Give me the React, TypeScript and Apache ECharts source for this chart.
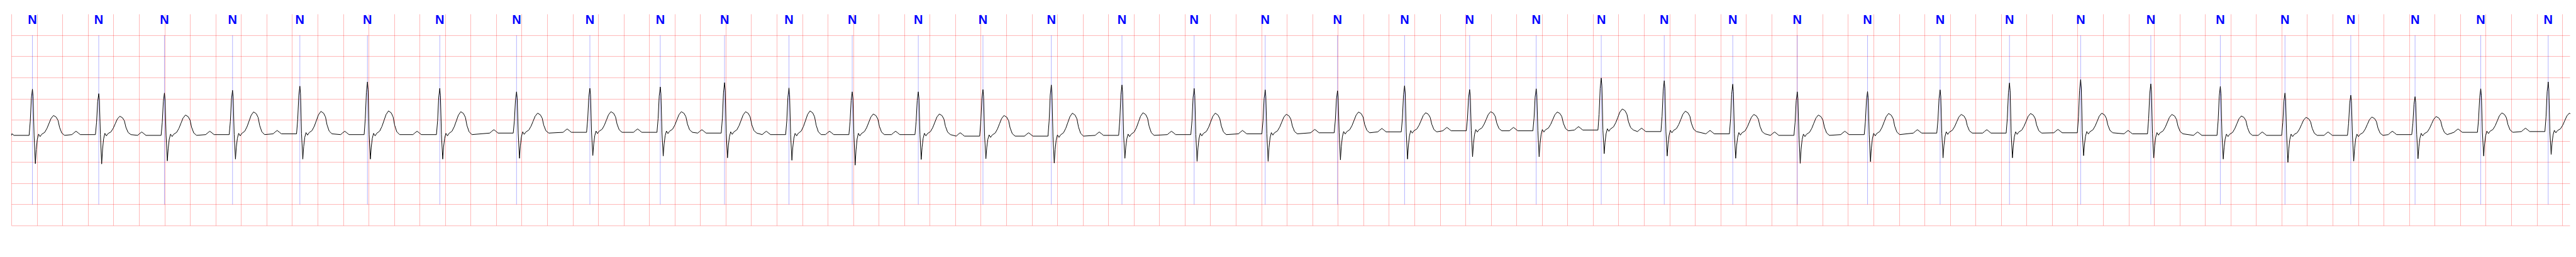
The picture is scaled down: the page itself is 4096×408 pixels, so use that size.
import React, { useEffect, useRef } from "react";
import * as echarts from "echarts";

// R-peak times (s) of each annotated beat
const BEAT_TIMES = [0.163, 0.683, 1.198, 1.732, 2.26, 2.79, 3.357, 3.959, 4.534, 5.086, 5.59, 6.095, 6.591, 7.109, 7.616, 8.152, 8.706, 9.272, 9.829, 10.396, 10.922, 11.432, 11.954, 12.464, 12.958, 13.495, 14.001, 14.552, 15.121, 15.665, 16.223, 16.773, 17.318, 17.825, 18.341, 18.845, 19.36, 19.889];
const BEAT_LABELS = ["N", "N", "N", "N", "N", "N", "N", "N", "N", "N", "N", "N", "N", "N", "N", "N", "N", "N", "N", "N", "N", "N", "N", "N", "N", "N", "N", "N", "N", "N", "N", "N", "N", "N", "N", "N", "N", "N"];
// amplitudes (mV) read per beat
const R_PEAK = [0.727, 0.622, 0.636, 0.701, 0.799, 0.9, 0.748, 0.665, 0.748, 0.781, 0.882, 0.756, 0.665, 0.665, 0.719, 0.828, 0.828, 0.745, 0.712, 0.691, 0.81, 0.719, 0.738, 0.991, 0.929, 0.846, 0.665, 0.672, 0.712, 0.875, 0.954, 0.853, 0.792, 0.636, 0.586, 0.55, 0.738, 0.9];
const S_TROUGH = [-1.034, -1.041, -0.969, -0.926, -0.926, -0.926, -0.926, -0.907, -0.842, -0.853, -0.897, -0.954, -1.07, -0.936, -0.918, -1.02, -0.907, -0.98, -0.98, -0.944, -0.926, -0.871, -0.871, -0.799, -0.853, -0.907, -1.027, -0.987, -0.897, -0.897, -0.846, -0.897, -0.926, -1.005, -0.973, -0.918, -0.853, -0.817];
const T_PEAK = [0.105, 0.087, 0.116, 0.19, 0.202, 0.213, 0.195, 0.16, 0.195, 0.195, 0.195, 0.213, 0.141, 0.141, 0.105, 0.159, 0.17, 0.159, 0.134, 0.188, 0.17, 0.195, 0.188, 0.26, 0.206, 0.13, 0.116, 0.152, 0.13, 0.152, 0.159, 0.13, 0.094, 0.061, 0.069, 0.08, 0.166, 0.159];
const BASELINE = [-0.365, -0.347, -0.365, -0.347, -0.329, -0.347, -0.347, -0.311, -0.293, -0.293, -0.311, -0.347, -0.347, -0.347, -0.383, -0.383, -0.365, -0.347, -0.329, -0.304, -0.282, -0.257, -0.257, -0.239, -0.275, -0.329, -0.365, -0.347, -0.311, -0.311, -0.304, -0.329, -0.365, -0.365, -0.365, -0.347, -0.293, -0.275];
const P_AMP = 0.08;
const J_AMP = 0.03;

// beat shape: offset from R (s), reference wave, fraction of it
const SHAPE_DT = [-0.21, -0.195, -0.178, -0.161, -0.145, -0.026, -0.017, -0.0085, 0, 0.005, 0.013, 0.023, 0.03, 0.038, 0.048, 0.06, 0.072, 0.096, 0.114, 0.13, 0.146, 0.165, 0.186, 0.201, 0.213, 0.23, 0.252];
const SHAPE_REF = ["P", "P", "P", "P", "P", "R", "R", "R", "R", "R", "R", "S", "S", "S", "J", "J", "T", "T", "T", "T", "T", "T", "T", "T", "T", "T", "T"];
const SHAPE_FRAC = [0, 0.5, 1, 0.5, 0, 0, 0.3, 0.8, 1, 0.85, 0, 1, 0.5, 0.15, 1, -1, 0.05, 0.15, 0.35, 0.6, 0.85, 1, 0.92, 0.75, 0.4, 0.12, 0];

const X_MAX = 20.06;

function buildTrace(): number[][] {
  const pts: number[][] = [[0, BASELINE[0]]];
  BEAT_TIMES.forEach((t0, i) => {
    const b = BASELINE[i];
    SHAPE_DT.forEach((dt, k) => {
      const f = SHAPE_FRAC[k];
      const ref = SHAPE_REF[k];
      let v = b;
      if (ref === "P") v = b + f * P_AMP;
      else if (ref === "J") v = b + f * J_AMP;
      else if (ref === "R") v = b + f * (R_PEAK[i] - b);
      else if (ref === "S") v = b + f * (S_TROUGH[i] - b);
      else if (ref === "T") v = b + f * (T_PEAK[i] - b);
      const t = t0 + dt;
      if (t > 0) pts.push([t, v]);
    });
  });
  return pts;
}

export default function App() {
  const ref = useRef<HTMLDivElement>(null);
  useEffect(() => {
    if (!ref.current) return;
    const chart = echarts.init(ref.current, undefined, { renderer: "svg" });
    const gridLine = { show: true, lineStyle: { color: "rgba(255,0,0,0.28)", width: 1 } };
    chart.setOption({
      animation: false,
      backgroundColor: "#ffffff",
      grid: { left: 18.5, right: 9.5, top: 22.6, bottom: 49.8, containLabel: false },
      xAxis: {
        type: "value",
        min: 0,
        max: X_MAX,
        interval: 0.2,
        axisLine: { show: false },
        axisTick: { show: false },
        axisLabel: { show: false },
        splitLine: { ...gridLine, showMaxLine: false },
      },
      yAxis: {
        type: "value",
        min: -2.5,
        max: 2.5,
        interval: 0.5,
        axisLine: { show: false },
        axisTick: { show: false },
        axisLabel: { show: false },
        splitLine: { ...gridLine, showMaxLine: false },
      },
      series: [
        {
          type: "custom",
          coordinateSystem: "cartesian2d",
          silent: true,
          z: 1,
          encode: { x: 0, y: 1 },
          data: BEAT_TIMES.map((t, i) => [t, 0, i]),
          renderItem: (params: any, api: any) => {
            const t = api.value(0);
            const idx = api.value(2);
            const top = api.coord([t, 2.0]);
            const bot = api.coord([t, -2.0]);
            const lab = api.coord([t, 2.37]);
            return {
              type: "group",
              children: [
                {
                  type: "line",
                  shape: { x1: top[0], y1: top[1], x2: bot[0], y2: bot[1] },
                  style: { stroke: "rgba(0,0,255,0.5)", lineWidth: 0.6 },
                },
                {
                  type: "text",
                  x: lab[0],
                  y: lab[1],
                  style: {
                    text: BEAT_LABELS[idx],
                    fill: "#0000ff",
                    fontSize: 20,
                    fontWeight: "bold",
                    fontFamily: "'Liberation Sans Narrow', 'Liberation Sans', Arial, sans-serif",
                    align: "center",
                    verticalAlign: "middle",
                  },
                },
              ],
            };
          },
        },
        {
          type: "line",
          z: 2,
          silent: true,
          showSymbol: false,
          symbol: "none",
          smooth: false,
          clip: true,
          lineStyle: { color: "#000000", width: 1 },
          data: buildTrace(),
        },
      ],
    });
    return () => chart.dispose();
  }, []);
  return <div ref={ref} style={{ position: "absolute", left: 0, top: 0, width: 4096, height: 408 }} />;
}
